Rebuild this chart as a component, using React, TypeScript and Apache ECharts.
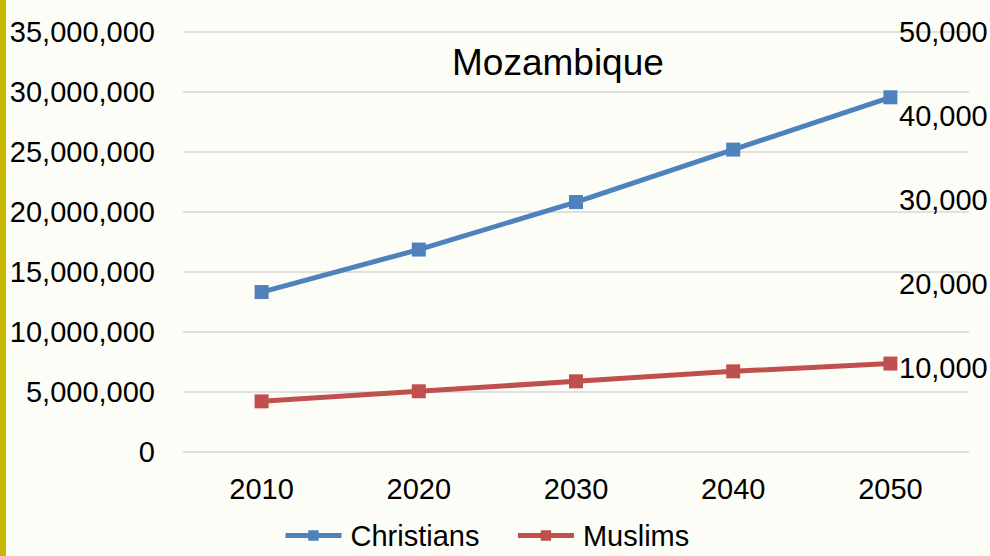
import React, { useEffect, useRef } from "react";
import * as echarts from "echarts";

const years = ["2010", "2020", "2030", "2040", "2050"];
const christians = [13330000, 16870000, 20830000, 25200000, 29560000];
const muslims = [4220000, 5060000, 5890000, 6720000, 7370000];
const titleText = "Mozambique";
const seriesNames = ["Christians", "Muslims"];
const rightAxisMax = 50000;
const rightAxisStep = 10000;

const FONT = "'Liberation Sans', Arial, sans-serif";

const fmt = (v: number) => Math.round(v).toLocaleString("en-US");

export default function App() {
  const ref = useRef<HTMLDivElement>(null);
  useEffect(() => {
    if (!ref.current) return;
    const chart = echarts.init(ref.current, null, { renderer: "svg" });
    chart.setOption({
      animation: false,
      backgroundColor: "#FDFDF7",
      textStyle: { fontFamily: FONT },
      title: {
        text: titleText,
        left: 452,
        top: 44,
        padding: 0,
        textStyle: { fontFamily: FONT, fontSize: 37, fontWeight: "normal", color: "#000" },
      },
      graphic: [
        { type: "rect", left: 0, top: 0, shape: { x: 0, y: 0, width: 6, height: 556 }, style: { fill: "#C6B700" } },
      ],
      legend: {
        data: seriesNames,
        left: 283,
        top: 521,
        itemWidth: 56,
        itemHeight: 13,
        itemGap: 36,
        padding: 0,
        lineStyle: { width: 5 },
        textStyle: { fontFamily: FONT, fontSize: 29, color: "#000", padding: [0, 0, 0, 4] },
      },
      grid: {
        left: 183,
        right: 21,
        top: 32,
        bottom: 104,
        containLabel: false,
        outerBoundsMode: "none",
      },
      xAxis: {
        type: "category",
        data: years,
        boundaryGap: true,
        axisLine: { show: false },
        axisTick: { show: false },
        axisLabel: { fontFamily: FONT, fontSize: 29, color: "#000", margin: 22 },
      },
      yAxis: [
        {
          type: "value",
          min: 0,
          max: 35000000,
          interval: 5000000,
          axisLine: { show: false },
          axisTick: { show: false },
          splitLine: { lineStyle: { color: "#D6D6D6", width: 1.5 } },
          axisLabel: { fontFamily: FONT, fontSize: 29, color: "#000", margin: 28, formatter: fmt },
        },
        {
          type: "value",
          position: "right",
          min: 0,
          max: rightAxisMax,
          interval: rightAxisStep,
          axisLine: { show: false },
          axisTick: { show: false },
          splitLine: { show: false },
          axisLabel: {
            fontFamily: FONT,
            fontSize: 29,
            color: "#000",
            margin: -70,
            showMinLabel: false,
            hideOverlap: false,
            formatter: fmt,
          },
        },
      ],
      series: [
        {
          name: seriesNames[0],
          type: "line",
          data: christians,
          symbol: "rect",
          symbolSize: 14,
          color: "#4F81BD",
          lineStyle: { width: 5, color: "#4F81BD" },
          itemStyle: { color: "#4F81BD" },
        },
        {
          name: seriesNames[1],
          type: "line",
          data: muslims,
          symbol: "rect",
          symbolSize: 14,
          color: "#C0504D",
          lineStyle: { width: 5, color: "#C0504D" },
          itemStyle: { color: "#C0504D" },
        },
      ],
    });
    return () => chart.dispose();
  }, []);
  return (
    <div
      ref={ref}
      style={{ position: "fixed", left: 0, top: 0, width: 990, height: 556 }}
    />
  );
}
